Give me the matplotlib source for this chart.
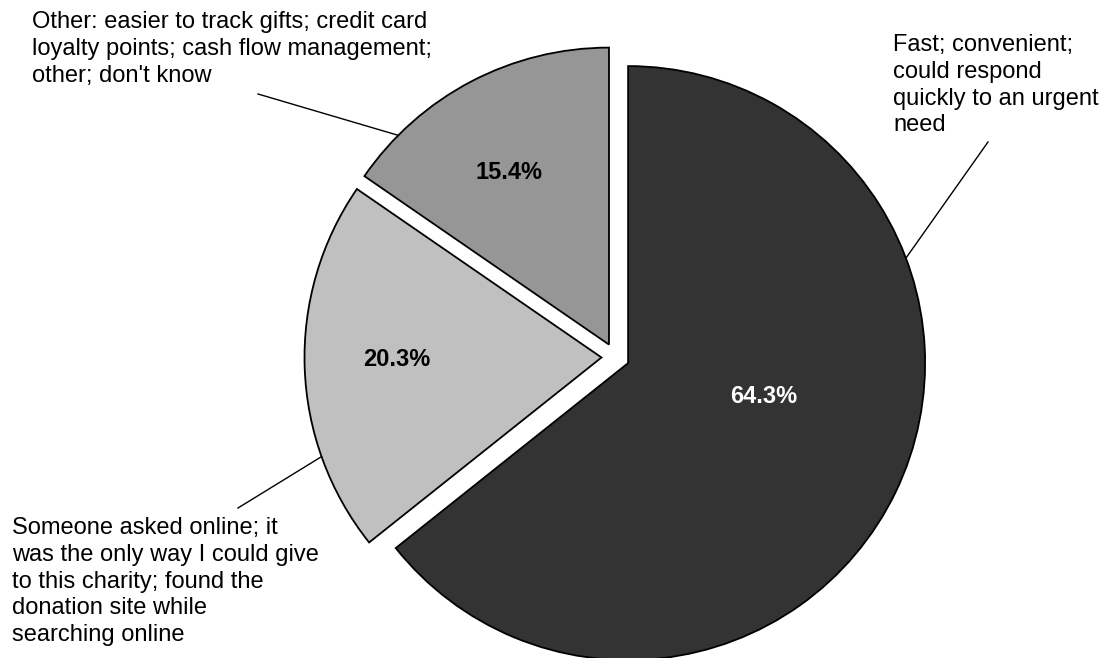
import numpy as np
import matplotlib
matplotlib.use("Agg")
import matplotlib.pyplot as plt

plt.rcParams['font.family'] = ['Liberation Sans', 'DejaVu Sans']

# share of online donors by main reason for giving online (%)
reasons = [
    "Fast; convenient;\ncould respond\nquickly to an urgent\nneed",
    "Someone asked online; it\nwas the only way I could give\nto this charity; found the\ndonation site while\nsearching online",
    "Other: easier to track gifts; credit card\nloyalty points; cash flow management;\nother; don't know",
]
shares = [64.3, 20.3, 15.4]
colors = ['#333333', '#c0c0c0', '#969696']
pct_colors = ['white', 'black', 'black']

# layout (pixels on a 1107x658 canvas)
W, H = 1107, 658
R_PX = 297.0
CX, CY = 615.5, 357.0          # pie centre, measured from top-left
EXPLODE = 14.0 / R_PX

def px(x, y):
    # pixel position (from top-left) -> data units where radius == 1
    return (x - CX) / R_PX, (CY - y) / R_PX

fig = plt.figure(figsize=(W / 100, H / 100), dpi=100)
ax = fig.add_axes([0, 0, 1, 1])

wedges, _ = ax.pie(shares, colors=colors, startangle=90, counterclock=False,
                   explode=[EXPLODE] * len(shares), radius=1.0,
                   wedgeprops=dict(edgecolor='black', linewidth=1.3))

# pie() resets the limits, so set them afterwards
x0, y1 = px(0, 0)
x1, y0 = px(W, H)
ax.set_xlim(x0, x1)
ax.set_ylim(y0, y1)
ax.set_aspect('equal')
ax.axis('off')

# percentage labels: (distance from wedge centre, angle in degrees)
pct_pos = [(0.47, -14.0), (0.69, 180.7), (0.67, 120.0)]
for w, v, c, (d, a) in zip(wedges, shares, pct_colors, pct_pos):
    cx, cy = w.center
    t = np.deg2rad(a)
    ax.text(cx + d * np.cos(t), cy + d * np.sin(t), f"{v:.1f}%",
            ha='center', va='center', fontsize=17, fontweight='bold', color=c)

# category labels with leader lines
label_xy = [(893, 34), (12, 517), (32, 11)]       # top-left of each text block
leader_angle = [20.7, 199.5, 135.2]                # where the line meets the wedge
leader_end = [(988, 142), (238, 508), (258, 94)]
for w, txt, (lx, ly), a, (ex, ey) in zip(wedges, reasons, label_xy,
                                         leader_angle, leader_end):
    tx, ty = px(lx, ly)
    ax.text(tx, ty, txt, ha='left', va='top', fontsize=17, linespacing=1.28)
    cx, cy = w.center
    t = np.deg2rad(a)
    sx, sy = cx + 1.0 * np.cos(t), cy + 1.0 * np.sin(t)
    exd, eyd = px(ex, ey)
    ax.plot([sx, exd], [sy, eyd], color='black', linewidth=1.0)

fig.savefig('out.png', dpi=100)
